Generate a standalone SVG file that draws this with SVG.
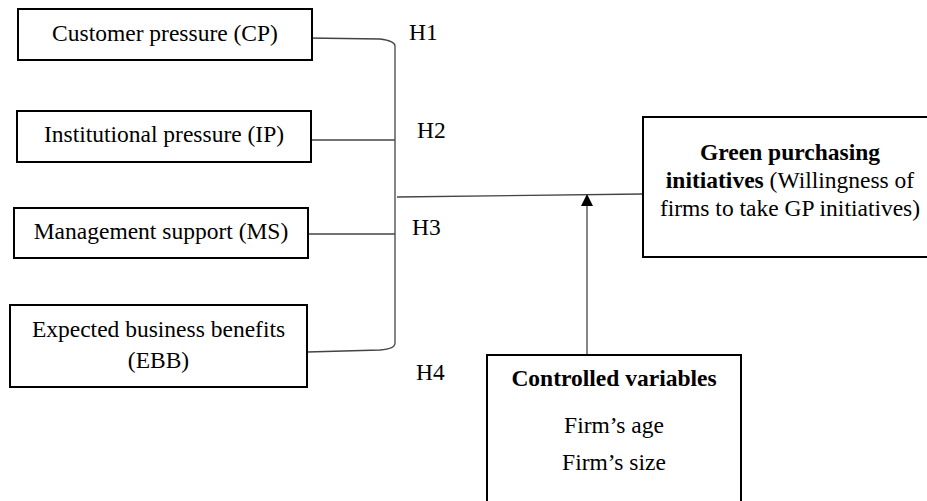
<svg xmlns="http://www.w3.org/2000/svg" width="927" height="501" viewBox="0 0 927 501" font-family="'Liberation Serif', 'Times New Roman', Times, 'DejaVu Serif', serif">
<style>
text{font-family:'Liberation Serif','Times New Roman',Times,'DejaVu Serif',serif}
.box{fill:#fff;stroke:#000;stroke-width:2}
.t{font-size:23.5px;fill:#000}
.c{text-anchor:middle}
.b{font-weight:bold}
.ln{fill:none;stroke:#444;stroke-width:1.3}
</style>
<g id="connectors">
<path class="ln" d="M308,38 L380,39 Q395,41 395,46 L395,343 Q395,349 380,350 L307,352"/>
<path class="ln" d="M311,140 H395"/>
<path class="ln" d="M308,234 H395"/>
<path class="ln" d="M397,197 L643,194"/>
<line class="ln" x1="587" y1="355" x2="587" y2="205"/>
<path d="M581,206 L587,194 L593,206 Z" fill="#000"/>
</g>
<g id="labels">
<text class="t" x="409" y="40">H1</text>
<text class="t" x="417" y="138">H2</text>
<text class="t" x="412" y="235">H3</text>
<text class="t" x="416" y="380">H4</text>
</g>
<g id="cp">
<rect class="box" x="18" y="9" width="294" height="51"/>
<text class="t c" x="165" y="41">Customer pressure (CP)</text>
</g>
<g id="ip">
<rect class="box" x="17" y="111" width="294" height="51"/>
<text class="t c" x="164" y="142">Institutional pressure (IP)</text>
</g>
<g id="ms">
<rect class="box" x="14" y="208" width="294" height="50"/>
<text class="t c" x="161" y="239">Management support (MS)</text>
</g>
<g id="ebb">
<rect class="box" x="10" y="305" width="297" height="82"/>
<text class="t c" x="158.5" y="337">Expected business benefits</text>
<text class="t c" x="158.5" y="368">(EBB)</text>
</g>
<g id="gp">
<rect class="box" x="643" y="117" width="295" height="140"/>
<text class="t c b" x="790" y="160">Green purchasing</text>
<text class="t c" x="790" y="188"><tspan class="b">initiatives</tspan> (Willingness of</text>
<text class="t c" x="790" y="216">firms to take GP initiatives)</text>
</g>
<g id="cv">
<rect class="box" x="487" y="355" width="254" height="160"/>
<text class="t c b" x="614" y="386">Controlled variables</text>
<text class="t c" x="614" y="433">Firm’s age</text>
<text class="t c" x="614" y="470">Firm’s size</text>
</g>
</svg>
